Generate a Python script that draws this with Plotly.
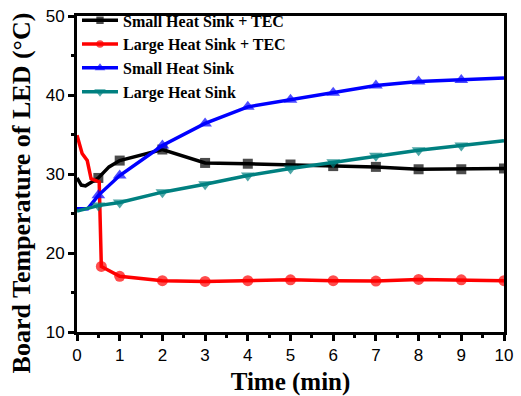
import plotly.graph_objects as go

# Small Heat Sink + TEC
x_black = [0, 0.1, 0.2, 0.5, 0.75, 1, 2, 3, 4, 5, 6, 7, 8, 9, 10]
y_black = [29.5, 28.6, 28.5, 29.5, 30.9, 31.7, 33.1, 31.4, 31.3, 31.2, 31.0, 30.9, 30.6, 30.6, 30.7]
m_black = [0, 0, 0, 1, 0, 1, 1, 1, 1, 1, 1, 1, 1, 1, 1]

# Large Heat Sink + TEC
x_red = [0, 0.12, 0.24, 0.33, 0.52, 0.57, 1, 2, 3, 4, 5, 6, 7, 8, 9, 10]
y_red = [34.9, 32.6, 31.7, 29.4, 29.0, 18.3, 17.05, 16.5, 16.4, 16.5, 16.6, 16.5, 16.45, 16.65, 16.6, 16.5]
m_red = [0, 0, 0, 0, 0, 1, 1, 1, 1, 1, 1, 1, 1, 1, 1, 1]

# Small Heat Sink
x_blue = [0, 0.25, 0.5, 1, 2, 3, 4, 5, 6, 7, 8, 9, 10]
y_blue = [25.6, 25.6, 27.3, 29.8, 33.6, 36.4, 38.5, 39.4, 40.3, 41.2, 41.7, 41.9, 42.15]
m_blue = [0, 0, 1, 1, 1, 1, 1, 1, 1, 1, 1, 1, 0]

# Large Heat Sink
x_teal = [0, 0.5, 1, 2, 3, 4, 5, 6, 7, 8, 9, 10]
y_teal = [25.3, 26.0, 26.4, 27.7, 28.7, 29.8, 30.7, 31.5, 32.3, 33.0, 33.6, 34.2]
m_teal = [0, 1, 1, 1, 1, 1, 1, 1, 1, 1, 1, 0]

series = [
    ("Small Heat Sink + TEC", x_black, y_black, m_black, "#000000", "square", 10),
    ("Large Heat Sink + TEC", x_red, y_red, m_red, "#ff0000", "circle", 11),
    ("Small Heat Sink", x_blue, y_blue, m_blue, "#0000ff", "triangle-up", 12),
    ("Large Heat Sink", x_teal, y_teal, m_teal, "#008080", "triangle-down", 12),
]

fig = go.Figure()
for name, xs, ys, ms, col, sym, sz in series:
    fig.add_trace(go.Scatter(
        x=xs, y=ys, name="<b>" + name + "</b>", mode="lines+markers",
        line=dict(color=col, width=3.5),
        marker=dict(color=col, symbol=sym, size=[sz * m for m in ms], line=dict(width=0)),
    ))

axis_common = dict(
    showline=True, linecolor="black", linewidth=3, mirror=True,
    ticks="outside", ticklen=6, tickwidth=3, tickcolor="black",
    showgrid=False, zeroline=False, automargin=False,
    tickfont=dict(family="Liberation Sans, Arial", size=17, color="black"),
)

fig.update_layout(
    width=521, height=396,
    margin=dict(l=77, r=17, t=16, b=64, autoexpand=False),
    paper_bgcolor="white", plot_bgcolor="white",
    xaxis=dict(range=[0, 10], dtick=1, tick0=0,
               minor=dict(dtick=0.5, ticks="outside", ticklen=3, tickwidth=3, tickcolor="black"),
               title=dict(text="<b>Time (min)</b>",
                          font=dict(family="Liberation Serif", size=25, color="black"), standoff=10),
               **axis_common),
    yaxis=dict(range=[10, 50], dtick=10, tick0=10,
               minor=dict(dtick=5, ticks="outside", ticklen=3, tickwidth=3, tickcolor="black"),
               **axis_common),
    legend=dict(x=0.0, y=1.04, xanchor="left", yanchor="top",
                bgcolor="rgba(0,0,0,0)", borderwidth=0,
                font=dict(family="Liberation Serif", size=16, color="black"),
                tracegroupgap=0, itemwidth=36),
    showlegend=True,
    annotations=[dict(
        text="<b>Board Temperature of LED (\u00b0C)</b>",
        xref="paper", yref="paper", x=-0.13, y=0.44,
        xanchor="center", yanchor="middle", textangle=-90, showarrow=False,
        font=dict(family="Liberation Serif", size=26, color="black"),
    )],
)

fig.write_html("out.html")
